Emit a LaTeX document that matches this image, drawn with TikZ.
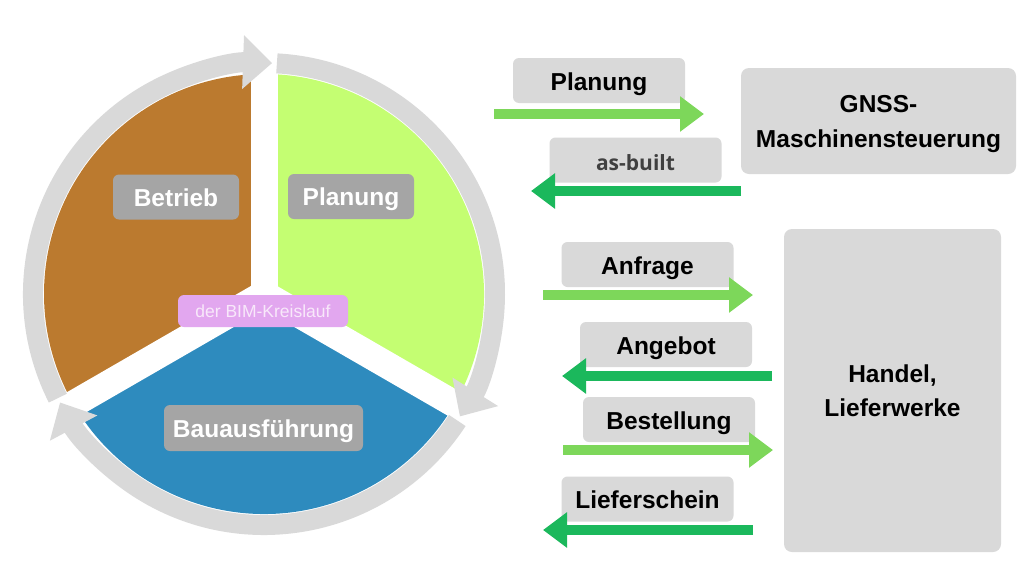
\documentclass[tikz,border=0pt]{standalone}
\usepackage{fontspec}
\setmainfont{Liberation Sans}
\newfontfamily\osans{Open Sans}
\usetikzlibrary{arrows.meta}

\definecolor{betriebc}{HTML}{BB7A2F}
\definecolor{planungc}{HTML}{C4FE72}
\definecolor{bauc}{HTML}{2E8BBE}
\definecolor{ringgray}{HTML}{D9D9D9}
\definecolor{labgray}{HTML}{A5A5A5}
\definecolor{boxgray}{HTML}{D9D9D9}
\definecolor{bimpink}{HTML}{E2A7EF}
\definecolor{bimtext}{HTML}{F8E8FA}
\definecolor{lightarrow}{HTML}{7DD75A}
\definecolor{darkarrow}{HTML}{1BB85C}
\definecolor{asgray}{HTML}{404040}

\begin{document}
\begin{tikzpicture}[x=1pt, y=-1pt,
  seclabel/.style={fill=labgray, text=white, rounded corners=6pt, inner sep=0pt,
    font=\bfseries\fontsize{24.5}{28}\selectfont, minimum height=45pt,
    text height=18pt, text depth=0pt},
  bimlabel/.style={fill=bimpink, text=bimtext, rounded corners=6pt, inner sep=0pt,
    font=\fontsize{17.5}{20}\selectfont, minimum width=170pt, minimum height=32pt,
    text height=12.5pt, text depth=0pt},
  msg/.style={fill=boxgray, text=black, rounded corners=6pt, inner sep=0pt,
    font=\bfseries\fontsize{24.5}{28}\selectfont, minimum width=172pt,
    minimum height=45pt, text height=19pt, text depth=0pt},
  party/.style={fill=boxgray, rounded corners=8pt, inner sep=0pt, align=center,
    font=\bfseries\fontsize{24.5}{34}\selectfont},
  ring/.style={draw=ringgray, line width=20pt, -{Triangle[width=52pt,length=29pt]}},
  spoke/.style={draw=white, line width=27pt},
  fwd/.style={draw=lightarrow, line width=10pt, -{Triangle[width=34pt,length=24pt]}},
  bwd/.style={draw=darkarrow, line width=10pt, -{Triangle[width=34pt,length=24pt]}}]

  \newcommand\PieR{220};
  \newcommand\RingR{231};

  \useasboundingbox[fill=white] (0,0) rectangle (1024,576);

  \coordinate (c) at (264,294);

  % the three sectors
  \fill[betriebc] (c) -- ++(-90:\PieR) arc[start angle=-90, end angle=-210, radius=\PieR] -- cycle;
  \fill[planungc] (c) -- ++(30:\PieR) arc[start angle=30, end angle=-90, radius=\PieR] -- cycle;
  \fill[bauc] (c) -- ++(150:\PieR) arc[start angle=150, end angle=30, radius=\PieR] -- cycle;
  \foreach \g in {90,-30,210}
    \draw[spoke] (c) -- ++({-(\g)}:\PieR+2);

  % ring of arrows
  \foreach \g in {90,-30,210}
    \draw[ring] ([shift={({3.2-(\g)}:\RingR)}]c)
      arc[start angle={3.2-(\g)}, end angle={122-(\g)}, radius=\RingR];

  \node[seclabel, minimum width=126pt] (betrieb) at (176,197) {Betrieb};
  \node[seclabel, minimum width=126pt] (planungC) at (351,196.5) {Planung};
  \node[seclabel, minimum width=199pt, minimum height=46pt] (bau) at (263.5,428) {Bauausführung};
  \node[bimlabel] (bim) at (263,311) {der BIM-Kreislauf};

  % partners
  \node[party, minimum width=275pt, minimum height=106pt, text depth=0pt,
    font=\bfseries\fontsize{24.5}{35}\selectfont] (gnss) at (878.5,121) {GNSS-\\Maschinensteuerung};
  \node[party, minimum width=217pt, minimum height=323pt] (handel) at (892.5,390.5) {Handel,\\Lieferwerke};

  % messages
  \node[msg] (planung) at (599,80.5) {Planung};
  \node[msg, text=asgray, font=\osans\bfseries\fontsize{21}{24}\selectfont,
    text height=21pt] (asbuilt) at (635.5,160) {as-built};
  \node[msg] (anfrage) at (647.5,264.5) {Anfrage};
  \node[msg] (angebot) at (666,344.5) {Angebot};
  \node[msg] (bestellung) at (669,419.5) {Bestellung};
  \node[msg] (lieferschein) at (647.5,499) {Lieferschein};

  \coordinate (planS) at (494,114);  \coordinate (planE) at (704,114);
  \coordinate (asbS) at (741,191);   \coordinate (asbE) at (531,191);
  \coordinate (anfS) at (543,295);   \coordinate (anfE) at (753,295);
  \coordinate (angS) at (772,376);   \coordinate (angE) at (562,376);
  \coordinate (besS) at (563,450);   \coordinate (besE) at (773,450);
  \coordinate (liefS) at (753,530);  \coordinate (liefE) at (543,530);

  \draw[fwd] (planS) -- (planE);
  \draw[bwd] (asbS) -- (asbE);
  \draw[fwd] (anfS) -- (anfE);
  \draw[bwd] (angS) -- (angE);
  \draw[fwd] (besS) -- (besE);
  \draw[bwd] (liefS) -- (liefE);

\end{tikzpicture}
\end{document}
